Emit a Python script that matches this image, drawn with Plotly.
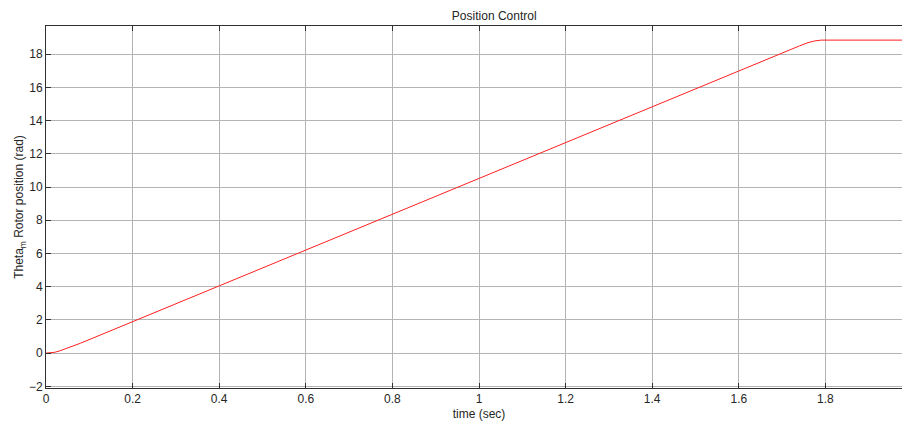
import plotly.graph_objects as go

# Data
time_s = [0.0, 0.01, 0.02, 0.03, 0.045, 0.06, 0.08, 1.74, 1.76, 1.775, 1.79, 2.0]
theta_m = [0.0, 0.01, 0.05, 0.12, 0.25, 0.38, 0.6, 18.5, 18.7, 18.8, 18.85, 18.85]

x_ticks = [0, 0.2, 0.4, 0.6, 0.8, 1, 1.2, 1.4, 1.6, 1.8, 2]
x_tick_labels = ["0", "0.2", "0.4", "0.6", "0.8", "1", "1.2", "1.4", "1.6", "1.8", "2"]
y_ticks = [-2, 0, 2, 4, 6, 8, 10, 12, 14, 16, 18]

# The page body has an 8px margin, so the figure sits at (8, 8) in the window.
OFF = 8
W, H = 910, 428
L, T = 46 - OFF, 26 - OFF
B = H - (388 - OFF)
R = W - (912 - OFF)
plot_w = W - L - R
x_max = 2.0

FONT = "Liberation Sans, Arial"
TXT = "#262626"

fig = go.Figure()
fig.add_trace(go.Scatter(
    x=time_s, y=theta_m, mode="lines",
    line=dict(color="#ff2020", width=1),
    showlegend=False, hoverinfo="skip",
))

axis_common = dict(
    showgrid=True, gridcolor="#b4b4b4", gridwidth=1,
    showline=True, linecolor="#303030", linewidth=1, mirror="ticks",
    ticks="inside", ticklen=5, tickcolor="#303030",
    zeroline=False, automargin=False,
    tickfont=dict(family=FONT, size=12, color=TXT),
)

fig.update_layout(
    width=W, height=H,
    margin=dict(l=L, r=R, t=T, b=B, autoexpand=False),
    paper_bgcolor="white", plot_bgcolor="white",
    font=dict(family=FONT, size=12, color=TXT),
    title=dict(text="Position Control", x=(L + plot_w / 2) / W, xref="paper", xanchor="center",
               y=1 - (16 - OFF) / H, yanchor="middle", font=dict(family=FONT, size=12, color=TXT)),
    xaxis=dict(range=[0, x_max], tickvals=x_ticks, ticktext=x_tick_labels,
               title=dict(text="time (sec)", standoff=4, font=dict(family=FONT, size=12, color=TXT)),
               **axis_common),
    yaxis=dict(range=[-2.1, 19.7], tickvals=y_ticks,
               title=dict(text="Theta<sub>m</sub> Rotor position (rad)", standoff=2,
                          font=dict(family=FONT, size=12, color=TXT)),
               **axis_common),
)

fig.write_html("out.html")
